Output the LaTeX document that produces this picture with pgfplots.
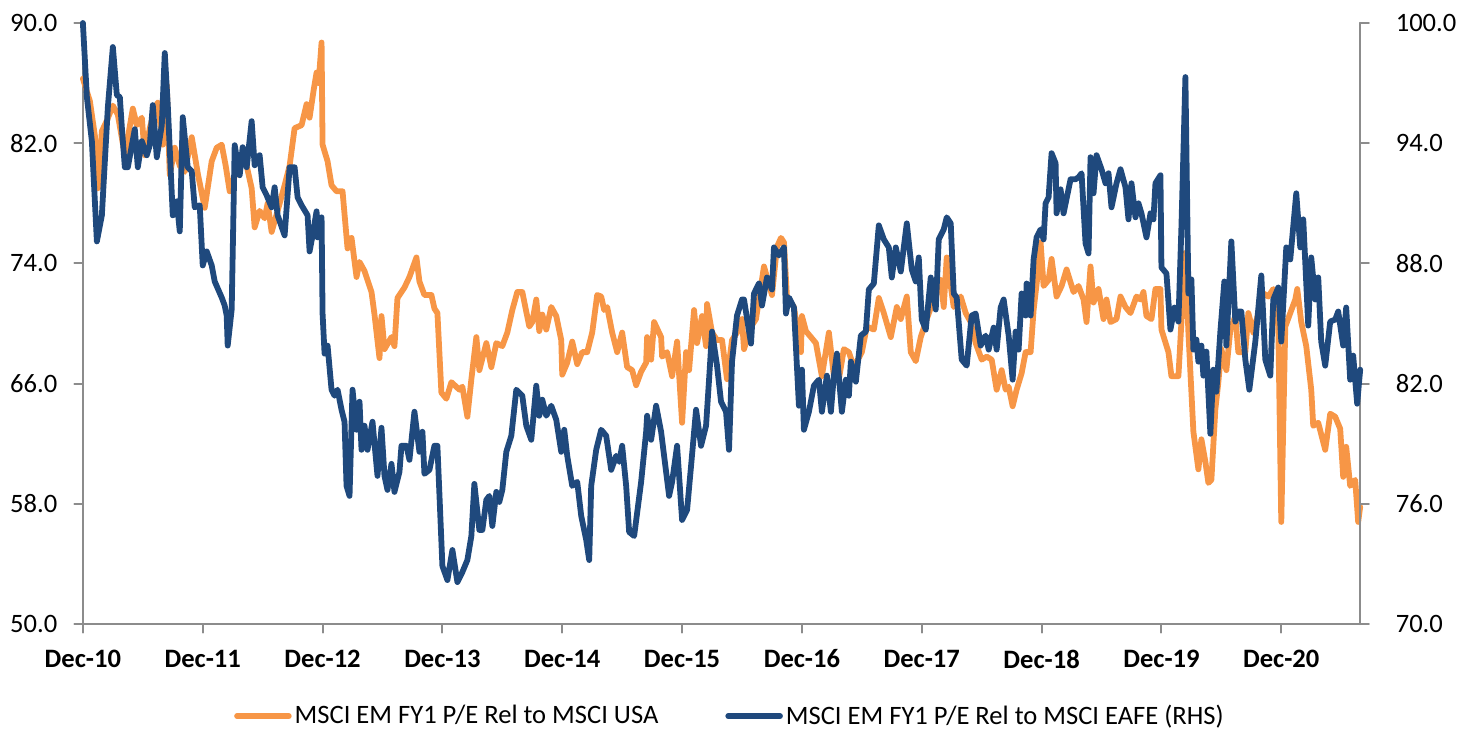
\documentclass[border=0pt]{standalone}
\usepackage{pgfplots}
\usepackage{pgfplotstable}
\pgfplotsset{compat=1.18}
\usepackage{fontspec}
\setmainfont{Carlito}
\definecolor{emorange}{HTML}{F79646}
\definecolor{emblue}{HTML}{1F497D}
\definecolor{axgray}{HTML}{8C8C8C}

\pgfplotstableread[row sep=\\]{
x y\\
0.0 86.3\\ 0.7 84.8\\ 1.2 82.5\\ 1.5 79.0\\ 1.9 82.8\\ 2.4 83.5\\ 3.0 84.5\\ 3.5 83.9\\ 4.2 81.2\\ 5.0 84.3\\
5.4 83.2\\ 5.9 83.7\\ 6.2 81.2\\ 6.7 83.0\\ 7.2 84.3\\ 7.5 84.7\\ 8.0 81.9\\ 8.4 85.9\\ 8.7 79.9\\ 9.2 81.7\\
9.7 80.5\\ 10.2 80.1\\ 10.9 82.4\\ 11.5 80.0\\ 12.2 77.7\\ 12.9 80.8\\ 13.4 81.7\\ 13.9 81.9\\ 14.3 80.5\\ 14.7 78.8\\
15.3 80.0\\ 15.9 81.0\\ 16.4 80.5\\ 16.9 79.0\\ 17.2 76.4\\ 17.7 77.5\\ 18.2 77.0\\ 18.5 78.0\\ 18.9 76.1\\ 19.5 77.5\\
20.2 79.2\\ 20.7 80.5\\ 21.2 83.0\\ 21.9 83.2\\ 22.4 84.6\\ 22.7 83.7\\ 23.1 85.5\\ 23.4 86.7\\ 23.6 86.0\\ 23.9 88.7\\
24.0 81.9\\ 24.5 80.8\\ 24.9 79.2\\ 25.4 78.8\\ 26.0 78.8\\ 26.5 75.0\\ 26.9 75.7\\ 27.4 73.1\\ 27.7 74.1\\ 28.2 73.5\\
28.9 72.1\\ 29.2 70.6\\ 29.7 67.7\\ 29.9 70.5\\ 30.2 68.3\\ 30.9 69.1\\ 31.2 68.5\\ 31.5 71.7\\ 32.2 72.4\\ 32.7 73.1\\
33.4 74.4\\ 33.7 72.8\\ 34.2 71.9\\ 34.9 71.9\\ 35.2 71.0\\ 35.5 70.7\\ 35.9 65.4\\ 36.4 65.0\\ 36.9 66.1\\ 37.7 65.6\\
38.0 65.8\\ 38.5 63.8\\ 38.9 66.3\\ 39.4 69.1\\ 39.7 66.9\\ 40.4 68.7\\ 40.9 67.1\\ 41.4 68.7\\ 42.0 68.5\\ 42.5 69.4\\
43.0 70.9\\ 43.5 72.1\\ 44.0 72.1\\ 44.7 69.8\\ 45.0 70.1\\ 45.4 71.6\\ 45.7 69.5\\ 46.0 70.6\\ 46.4 69.6\\ 46.9 71.1\\
47.4 70.5\\ 47.9 68.9\\ 48.0 66.6\\ 48.5 67.4\\ 49.0 68.8\\ 49.5 67.3\\ 50.0 68.1\\ 50.5 68.1\\ 51.0 69.4\\ 51.5 71.9\\
51.9 71.8\\ 52.2 70.9\\ 52.5 71.1\\ 53.0 69.4\\ 53.5 68.1\\ 54.0 69.4\\ 54.5 67.1\\ 55.0 66.9\\ 55.4 65.9\\ 55.9 66.8\\
56.4 67.4\\ 56.5 69.1\\ 56.9 67.6\\ 57.2 70.1\\ 57.9 69.1\\ 58.0 67.8\\ 58.5 68.1\\ 59.0 66.5\\ 59.5 68.8\\ 60.0 63.4\\
60.4 68.1\\ 60.7 66.9\\ 61.2 70.9\\ 61.5 68.7\\ 62.0 70.5\\ 62.4 68.5\\ 62.5 71.3\\ 63.0 69.4\\ 63.5 68.9\\ 64.0 68.9\\
64.5 66.3\\ 65.0 68.9\\ 65.5 69.4\\ 66.0 70.3\\ 66.2 68.3\\ 66.9 69.8\\ 67.4 70.3\\ 68.2 73.8\\ 68.5 73.1\\ 69.0 71.9\\
69.5 75.1\\ 69.9 75.7\\ 70.2 75.4\\ 70.5 71.8\\ 71.2 71.1\\ 71.9 68.1\\ 72.0 70.5\\ 72.4 69.5\\ 72.9 69.1\\ 73.4 68.7\\
74.0 66.5\\ 74.7 69.4\\ 75.2 66.5\\ 75.7 66.3\\ 76.2 68.3\\ 76.7 68.1\\ 77.2 67.1\\ 78.0 68.1\\ 78.5 69.8\\ 79.2 69.6\\
79.7 71.7\\ 80.2 70.7\\ 80.9 69.1\\ 81.5 71.1\\ 81.9 70.3\\ 82.5 71.8\\ 82.9 68.1\\ 83.4 67.5\\ 83.9 69.1\\ 84.5 70.3\\
85.2 71.6\\ 85.9 72.9\\ 86.2 71.1\\ 86.5 74.4\\ 87.2 71.1\\ 87.9 71.8\\ 88.4 70.7\\ 88.9 70.1\\ 89.4 68.7\\ 90.0 67.6\\
90.5 67.8\\ 91.0 67.6\\ 91.5 65.6\\ 92.0 66.9\\ 92.4 65.6\\ 92.7 65.8\\ 93.1 64.5\\ 93.5 65.6\\ 94.0 66.7\\ 94.4 68.1\\
94.9 68.1\\ 95.2 70.9\\ 95.7 73.8\\ 95.9 75.4\\ 96.2 72.5\\ 96.7 72.9\\ 97.0 74.3\\ 97.5 71.8\\ 98.0 72.5\\ 98.5 73.6\\
99.2 72.1\\ 99.7 72.5\\ 100.2 71.6\\ 100.5 70.1\\ 100.9 73.8\\ 101.2 71.4\\ 101.7 72.3\\ 102.2 70.3\\ 102.5 71.6\\ 102.9 70.1\\
103.5 70.3\\ 103.9 71.8\\ 104.4 71.1\\ 104.9 70.7\\ 105.5 71.8\\ 105.9 71.6\\ 106.2 72.1\\ 106.5 70.5\\ 107.0 70.3\\ 107.4 72.3\\
107.9 72.3\\ 108.0 69.6\\ 108.7 68.1\\ 109.0 66.5\\ 109.7 66.5\\ 110.0 70.1\\ 110.4 74.7\\ 110.7 69.4\\ 111.2 62.8\\ 111.7 60.3\\
112.0 62.3\\ 112.4 60.8\\ 112.7 59.4\\ 113.0 59.6\\ 113.4 64.3\\ 113.7 66.1\\ 114.0 68.3\\ 114.5 66.9\\ 114.9 69.6\\ 115.4 70.5\\
115.7 68.1\\ 116.4 68.1\\ 116.7 70.7\\ 117.2 69.4\\ 117.7 70.7\\ 118.0 72.1\\ 118.7 71.8\\ 119.2 72.3\\ 119.7 69.8\\ 120.0 56.8\\
120.4 69.8\\ 120.9 70.7\\ 121.4 71.6\\ 121.6 72.3\\ 122.0 70.1\\ 122.5 68.5\\ 123.0 65.6\\ 123.2 63.2\\ 123.7 63.4\\ 124.4 61.6\\
124.9 64.0\\ 125.4 63.8\\ 125.9 63.0\\ 126.2 59.8\\ 126.5 61.8\\ 126.9 59.2\\ 127.4 59.6\\ 127.7 56.8\\ 127.9 57.8\\
}\usadata

\pgfplotstableread[row sep=\\]{
x y\\
0.0 100.0\\ 0.4 96.3\\ 0.9 94.1\\ 1.4 89.1\\ 1.9 90.4\\ 2.2 93.1\\ 2.5 95.8\\ 3.0 98.8\\ 3.4 96.4\\ 3.7 96.3\\
3.9 94.8\\ 4.2 92.8\\ 4.5 92.8\\ 5.2 94.7\\ 5.5 92.8\\ 5.9 94.1\\ 6.4 93.4\\ 6.7 93.9\\ 7.0 95.9\\ 7.4 93.3\\
7.9 94.9\\ 8.2 98.5\\ 8.5 95.9\\ 9.0 90.4\\ 9.4 91.1\\ 9.7 89.6\\ 10.0 95.3\\ 10.5 92.8\\ 10.9 92.6\\ 11.2 90.8\\
11.7 90.9\\ 12.0 87.9\\ 12.4 88.6\\ 12.9 87.9\\ 13.2 87.1\\ 13.9 86.3\\ 14.2 85.9\\ 14.4 85.4\\ 14.5 83.9\\ 14.9 85.7\\
15.2 93.9\\ 15.7 92.4\\ 16.0 93.8\\ 16.4 92.8\\ 16.9 95.1\\ 17.2 92.9\\ 17.7 93.4\\ 18.0 91.8\\ 18.4 91.4\\ 18.9 90.8\\
19.2 91.8\\ 19.5 90.4\\ 20.2 89.4\\ 20.7 92.8\\ 21.2 92.8\\ 21.5 91.3\\ 21.9 90.9\\ 22.5 90.4\\ 22.7 88.6\\ 23.0 89.4\\
23.4 90.6\\ 23.5 89.3\\ 23.9 90.3\\ 24.0 85.5\\ 24.2 83.5\\ 24.5 83.9\\ 24.9 81.7\\ 25.2 81.4\\ 25.5 81.7\\ 25.9 80.7\\
26.2 80.1\\ 26.4 76.9\\ 26.7 76.4\\ 27.0 81.7\\ 27.4 79.7\\ 27.7 81.1\\ 27.9 78.7\\ 28.2 79.9\\ 28.5 78.7\\ 29.0 80.1\\
29.5 77.4\\ 29.9 79.8\\ 30.2 77.4\\ 30.5 76.7\\ 30.9 78.0\\ 31.2 76.6\\ 31.7 77.6\\ 31.9 78.9\\ 32.4 78.9\\ 32.7 78.2\\
33.2 80.6\\ 33.7 78.6\\ 34.0 79.6\\ 34.2 77.5\\ 34.7 77.7\\ 35.2 78.9\\ 35.5 78.9\\ 36.0 72.9\\ 36.5 72.2\\ 37.0 73.7\\
37.5 72.1\\ 38.0 72.6\\ 38.5 73.2\\ 38.9 74.4\\ 39.2 77.0\\ 39.7 74.7\\ 40.0 74.7\\ 40.4 76.2\\ 40.7 76.4\\ 41.0 74.9\\
41.4 76.6\\ 41.7 76.1\\ 42.0 76.7\\ 42.4 78.6\\ 42.9 79.4\\ 43.4 81.7\\ 44.0 81.4\\ 44.4 79.9\\ 44.9 79.2\\ 45.4 81.9\\
45.7 80.4\\ 46.0 81.2\\ 46.4 80.4\\ 46.9 80.9\\ 47.4 80.2\\ 47.9 78.6\\ 48.2 79.7\\ 48.5 78.4\\ 49.0 76.9\\ 49.5 77.1\\
49.9 75.4\\ 50.4 74.2\\ 50.7 73.2\\ 50.9 76.9\\ 51.4 78.7\\ 51.9 79.7\\ 52.4 79.4\\ 52.9 77.7\\ 53.4 78.4\\ 53.7 78.1\\
54.0 78.9\\ 54.4 76.9\\ 54.7 74.6\\ 55.2 74.4\\ 55.9 77.1\\ 56.4 79.6\\ 56.5 80.4\\ 56.9 79.2\\ 57.4 80.9\\ 57.9 79.6\\
58.4 77.6\\ 58.7 76.4\\ 59.0 77.1\\ 59.5 78.9\\ 60.0 75.2\\ 60.5 75.7\\ 60.9 77.9\\ 61.4 80.7\\ 61.9 78.9\\ 62.4 79.9\\
62.7 82.2\\ 63.0 84.6\\ 63.5 82.9\\ 63.9 81.1\\ 64.4 80.6\\ 64.7 78.7\\ 65.0 83.1\\ 65.5 85.4\\ 66.0 86.2\\ 66.2 86.2\\
66.9 84.0\\ 67.2 86.5\\ 67.7 87.0\\ 68.0 85.9\\ 68.5 87.3\\ 69.0 86.7\\ 69.2 88.8\\ 69.7 88.4\\ 70.2 88.8\\ 70.4 85.5\\
70.7 86.3\\ 71.2 85.8\\ 71.7 80.9\\ 72.0 82.7\\ 72.2 79.7\\ 72.7 80.6\\ 73.2 81.9\\ 73.7 82.2\\ 74.0 80.6\\ 74.5 82.4\\
74.9 80.6\\ 75.2 82.4\\ 75.5 83.5\\ 76.0 80.6\\ 76.4 82.2\\ 76.7 81.4\\ 76.9 83.1\\ 77.4 82.1\\ 77.9 84.4\\ 78.4 84.6\\
78.7 86.7\\ 79.2 87.0\\ 79.7 89.9\\ 80.2 89.2\\ 80.7 88.8\\ 81.0 87.3\\ 81.4 88.8\\ 81.9 87.6\\ 82.5 90.0\\ 83.0 87.7\\
83.4 87.1\\ 83.7 88.3\\ 84.0 85.2\\ 84.4 84.7\\ 84.9 87.3\\ 85.4 85.7\\ 85.7 89.2\\ 86.2 89.7\\ 86.5 90.3\\ 86.9 90.0\\
87.2 86.5\\ 87.5 86.3\\ 88.0 83.2\\ 88.5 82.9\\ 89.0 85.4\\ 89.4 85.5\\ 89.9 83.9\\ 90.4 84.4\\ 90.7 83.7\\ 91.2 84.8\\
91.5 83.7\\ 91.9 85.8\\ 92.2 86.2\\ 92.7 84.4\\ 93.1 82.2\\ 93.4 84.6\\ 93.7 83.7\\ 94.0 86.5\\ 94.4 85.4\\ 94.5 87.0\\
94.9 85.4\\ 95.2 88.2\\ 95.5 89.3\\ 95.9 89.7\\ 96.2 89.2\\ 96.4 91.0\\ 96.7 91.3\\ 97.0 93.5\\ 97.4 93.0\\ 97.5 90.5\\
97.9 91.7\\ 98.2 90.5\\ 98.9 92.2\\ 99.4 92.2\\ 99.7 92.3\\ 100.0 92.5\\ 100.4 89.0\\ 100.7 88.5\\ 100.9 93.3\\ 101.2 91.5\\
101.5 93.4\\ 102.0 92.7\\ 102.4 92.0\\ 102.7 92.5\\ 103.0 90.8\\ 103.5 92.0\\ 103.9 92.7\\ 104.4 91.8\\ 104.7 90.2\\ 105.0 92.0\\
105.4 90.3\\ 105.7 91.0\\ 106.0 90.5\\ 106.5 89.3\\ 106.9 90.5\\ 107.2 90.2\\ 107.4 92.0\\ 107.9 92.4\\ 108.0 87.8\\ 108.5 87.5\\
108.9 84.7\\ 109.3 85.8\\ 109.7 85.1\\ 110.0 89.8\\ 110.4 97.3\\ 110.7 86.5\\ 111.0 87.2\\ 111.2 83.7\\ 111.5 84.2\\ 111.7 83.1\\
112.0 83.9\\ 112.2 82.4\\ 112.5 83.6\\ 112.9 79.5\\ 113.2 82.7\\ 113.5 81.6\\ 113.9 84.6\\ 114.3 87.1\\ 114.5 83.9\\ 115.0 89.1\\
115.4 85.1\\ 115.7 85.6\\ 116.0 85.6\\ 116.4 83.2\\ 116.8 81.7\\ 117.4 84.1\\ 118.0 87.4\\ 118.4 83.2\\ 118.9 82.4\\ 119.2 86.2\\
119.7 86.8\\ 120.0 84.1\\ 120.5 88.8\\ 120.9 88.2\\ 121.5 91.5\\ 121.9 88.8\\ 122.2 90.2\\ 122.7 84.9\\ 123.0 88.3\\ 123.4 86.2\\
123.7 87.3\\ 124.0 84.1\\ 124.4 82.9\\ 124.9 85.1\\ 125.4 85.2\\ 125.7 85.6\\ 126.2 83.9\\ 126.5 85.8\\ 126.9 82.2\\ 127.2 83.4\\
127.6 81.0\\ 127.9 82.7\\
}\eafedata

\begin{document}
\begin{tikzpicture}
\pgfplotsset{
  common/.style={
    scale only axis, width=639.5pt, height=301pt,
    at={(0pt,0pt)}, anchor=south west,
    xmin=0, xmax=127.9,
    clip=false,
    axis line style={draw=axgray, line width=1pt},
    major tick style={draw=axgray, line width=1pt},
    major tick length=4.3pt, tick align=outside,
    /pgf/number format/assume math mode=true,
    tick label style={font=\fontsize{13.3}{16}\selectfont},
    yticklabel style={/pgf/number format/fixed, /pgf/number format/precision=1, /pgf/number format/fixed zerofill},
    line join=round, line cap=round,
  }
}
\path (-41.5pt,-52.5pt) rectangle (690pt,312.5pt);
\begin{axis}[common,
  ymin=50, ymax=90,
  axis x line*=bottom, axis y line*=left,
  xtick={0,12,...,120},
  xticklabels={Dec-10,Dec-11,Dec-12,Dec-13,Dec-14,Dec-15,Dec-16,Dec-17,Dec-18,Dec-19,Dec-20},
  xticklabel style={font=\fontsize{13.3}{16}\selectfont\bfseries, yshift=-5pt},
  ytick={50,58,...,90},
  yticklabel style={xshift=-5pt},
  legend columns=2,
  legend style={at={(0.507,-0.153)}, anchor=center, draw=none, fill=none,
    font=\fontsize{13.3}{16}\selectfont,
    /tikz/column 2/.style={column sep=32pt},
    nodes={inner xsep=1.5pt}},
  legend image code/.code={\draw[#1, line width=2.8pt, line cap=round] (0pt,0pt) -- (26pt,0pt);},
]
\addplot[emorange, line width=2.9pt] table[x=x, y=y] {\usadata};
\addlegendentry{MSCI EM FY1 P/E Rel to MSCI USA}
\addlegendimage{emblue, line width=2.9pt}
\addlegendentry{MSCI EM FY1 P/E Rel to MSCI EAFE (RHS)}
\end{axis}
\begin{axis}[common,
  ymin=70, ymax=100,
  axis x line=none, axis y line*=right,
  ytick={70,76,...,100},
  yticklabel style={xshift=10pt},
]
\addplot[emblue, line width=2.9pt] table[x=x, y=y] {\eafedata};
\end{axis}
\end{tikzpicture}
\end{document}
